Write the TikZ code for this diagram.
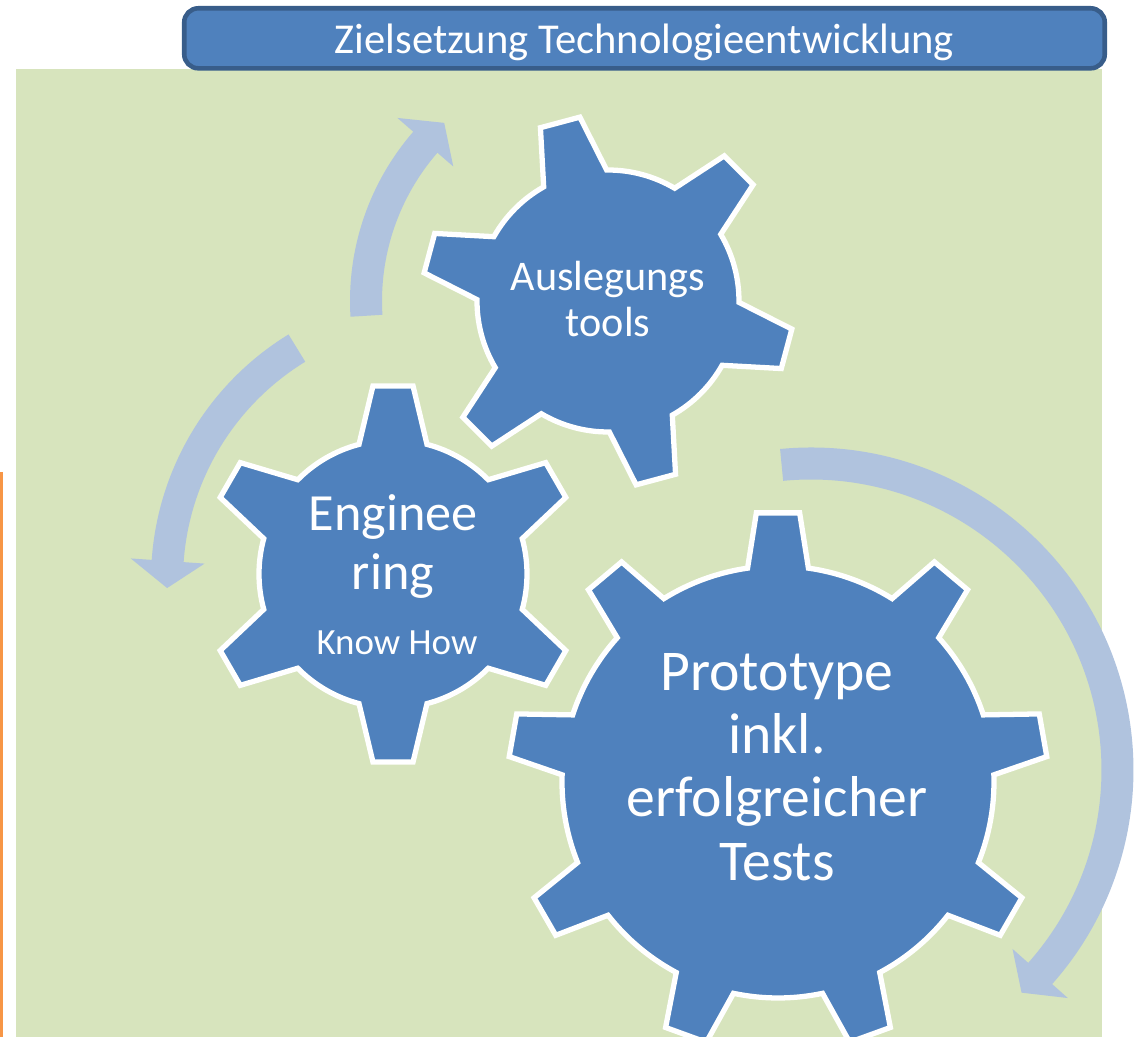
\documentclass[tikz,border=0pt]{standalone}
\usepackage{fontspec}
\setmainfont{Carlito}
\definecolor{gearblue}{HTML}{4F81BD}
\definecolor{gearframe}{HTML}{385D8A}
\definecolor{leafgreen}{HTML}{D7E4BD}
\definecolor{turnblue}{HTML}{B0C3DE}
\definecolor{tabframe}{HTML}{F79646}

\begin{document}
\begin{tikzpicture}[x=0.01cm,y=0.01cm,
    gear/.style={fill=gearblue,draw=white,line width=1.5pt},
    turn/.style={fill=turnblue},
    geartext/.style={text=white,align=center,inner sep=0pt}]
  \useasboundingbox (0,0) rectangle (1135,-1037);

  \fill[leafgreen] (16,-69) rectangle (1102,-1037);
  \draw[tabframe,line width=0.85pt] (-5,-473.5) -- (1.5,-473.5) -- (1.5,-1040);

  % circular arrows
  \begin{scope}[shift={(608,-301)}]
    \fill[turn] (183.5:258) arc[start angle=183.5,end angle=139,radius=258]
      -- (139:279) -- (132.6:242) -- (139:205) -- (139:226)
      arc[start angle=139,end angle=183.5,radius=226] -- cycle;
  \end{scope}

  \begin{scope}[shift={(439,-580)}]
    \fill[turn] (121.5:288) arc[start angle=121.5,end angle=176,radius=288]
      -- (176:309) -- (181.7:272) -- (176:235) -- (176:256)
      arc[start angle=176,end angle=121.5,radius=256] -- cycle;
  \end{scope}

  \begin{scope}[shift={(811,-770)}]
    \fill[turn] (95.5:322.5) arc[start angle=95.5,end angle=-41.6,radius=322.5]
      -- (-41.6:343.5) -- (-46.6:306.5) -- (-41.6:269.5) -- (-41.6:290.5)
      arc[start angle=-41.6,end angle=95.5,radius=290.5] -- cycle;
  \end{scope}

  % gears
  \begin{scope}[shift={(608,-301)}]
    \draw[gear] (-29.4:131) \foreach \t in {-15,45,...,285}{
        -- ({\t-14.4}:131) -- ({\t-6.3}:186) -- ({\t+6.3}:186) -- ({\t+14.4}:131)
        arc[start angle=\t+14.4,end angle=\t+45.6,radius=131]} -- cycle;
  \end{scope}

  \begin{scope}[shift={(393,-574)}]
    \draw[gear] (15.3:134) \foreach \t in {30,90,...,330}{
        -- ({\t-14.7}:134) -- ({\t-6.1}:189) -- ({\t+6.1}:189) -- ({\t+14.7}:134)
        arc[start angle=\t+14.7,end angle=\t+45.3,radius=134]} -- cycle;
  \end{scope}

  \begin{scope}[shift={(778,-782)}]
    \draw[gear] (1.9:216) \foreach \t in {10,50,...,330}{
        -- ({\t-8.1}:216) -- ({\t-4.6}:270) -- ({\t+4.6}:270) -- ({\t+8.1}:216)
        arc[start angle=\t+8.1,end angle=\t+31.9,radius=216]} -- cycle;
  \end{scope}

  \node[geartext,font=\fontsize{12}{13}\selectfont] (tools) at (608,-299) {Auslegungs\\tools};
  \node[geartext,font=\fontsize{14.85}{16.6}\selectfont] (eng) at (393,-546.5) {Enginee\\ring};
  \node[geartext,font=\fontsize{10.5}{12}\selectfont,anchor=base] (know) at (397,-655) {Know How};
  \node[geartext,font=\fontsize{16.4}{18}\selectfont] (proto) at (777,-767) {Prototype\\inkl.\\erfolgreicher\\Tests};

  \node[draw=gearframe,fill=gearblue,line width=1.3pt,rounded corners=4pt,
    minimum width=9.2cm,minimum height=0.6cm,inner sep=0pt,text=white,
    font=\fontsize{12.1}{15}\selectfont,text depth=0pt] (goal) at (644.5,-38.3)
    {Zielsetzung Technologieentwicklung};
\end{tikzpicture}
\end{document}
